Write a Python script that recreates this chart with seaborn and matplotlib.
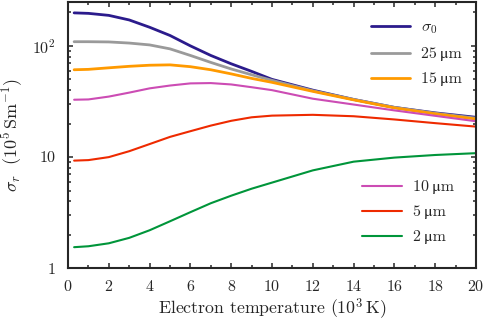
import numpy as np
import pandas as pd
import matplotlib
matplotlib.use('Agg')
import matplotlib.pyplot as plt
import seaborn as sns

# temperature grid (10^3 K) and conductivities (10^5 S/m)
temp = [0.3, 1, 2, 3, 4, 5, 6, 7, 8, 9, 10, 12, 14, 16, 18, 20]
sigma0 = [198, 196, 188, 171, 147, 124, 100, 82, 69, 59, 50, 40, 33, 28, 25, 22.8]
d25 = [109, 109, 108.5, 106, 102, 94, 82, 71, 62, 55, 49, 39.5, 33, 28, 24.8, 22.4]
d15 = [61, 61.5, 63.5, 65.5, 67, 67.5, 65, 61, 56, 51, 47, 39, 32.7, 27.7, 24.5, 22.0]
d10 = [32.8, 33, 35, 38, 41.5, 44, 46, 46.3, 45, 42.5, 40, 33.5, 29.7, 26.3, 23.5, 21.0]
d5 = [9.3, 9.4, 10, 11.3, 13.1, 15.2, 17.1, 19.2, 21.2, 22.8, 23.6, 24, 23.3, 21.8, 20.2, 18.8]
d2 = [1.55, 1.58, 1.68, 1.88, 2.2, 2.65, 3.2, 3.85, 4.5, 5.2, 5.9, 7.6, 9.1, 9.9, 10.45, 10.85]

labels_top = [r'$\sigma_0$', '25\u2009\u03bcm', '15\u2009\u03bcm']
labels_bot = ['10\u2009\u03bcm', '5\u2009\u03bcm', '2\u2009\u03bcm']
series = [sigma0, d25, d15, d10, d5, d2]
colors = ['#2b1b8c', '#9a9a9a', '#ff9a00', '#cc4cb4', '#ee2a00', '#00953a']
widths = [2.0, 2.0, 2.0, 1.5, 1.5, 1.5]

sns.set_style('ticks')
plt.rcParams['font.family'] = ['cmr10', 'STIXGeneral', 'DejaVu Serif']
plt.rcParams['mathtext.fontset'] = 'cm'
plt.rcParams['axes.unicode_minus'] = False
plt.rcParams['axes.formatter.use_mathtext'] = True

fig = plt.figure(figsize=(4.84, 3.21), dpi=100)
ax = fig.add_axes([0.1405, 0.164, 0.843, 0.831])

for vals, lab, col, lw in zip(series, labels_top + labels_bot, colors, widths):
    df = pd.DataFrame({'T': temp, 'sigma': vals})
    sns.lineplot(data=df, x='T', y='sigma', color=col, lw=lw, label=lab, ax=ax, legend=False)

ax.set_yscale('log')
ax.set_xlim(0, 20)
ax.set_ylim(1, 250)
ax.set_xticks(range(0, 21, 2))
ax.set_xticks(range(0, 21, 1), minor=True)
ax.set_yticks([1, 10, 100])
ax.set_yticklabels(['1', '10', r'$10^2$'])

ax.tick_params(which='both', direction='in', top=True, right=True, labelsize=11.5, width=1.1)
ax.tick_params(which='major', length=3.5)
ax.tick_params(which='minor', length=2.2)
ax.tick_params(axis='x', which='major', pad=7.5)
ax.tick_params(axis='y', which='major', pad=9)
for s in ax.spines.values():
    s.set_linewidth(1.5)

ax.set_xlabel(r'Electron temperature ($10^3\,\mathrm{K}$)', fontsize=12.8, labelpad=2)
ax.set_ylabel(r'$\sigma_r\ \ (10^5\,\mathrm{Sm^{-1}})$', fontsize=13, labelpad=5)

lines = ax.get_lines()
leg1 = ax.legend(lines[:3], labels_top, loc='upper right', bbox_to_anchor=(0.985, 0.96),
                 frameon=False, fontsize=11.5, handlelength=2.45, handletextpad=0.7,
                 labelspacing=0.68, borderpad=0)
ax.add_artist(leg1)
ax.legend(lines[3:], labels_bot, loc='lower right', bbox_to_anchor=(0.965, 0.06),
          frameon=False, fontsize=11.5, handlelength=2.45, handletextpad=0.7,
          labelspacing=0.68, borderpad=0)

fig.savefig('out.png', dpi=100)
